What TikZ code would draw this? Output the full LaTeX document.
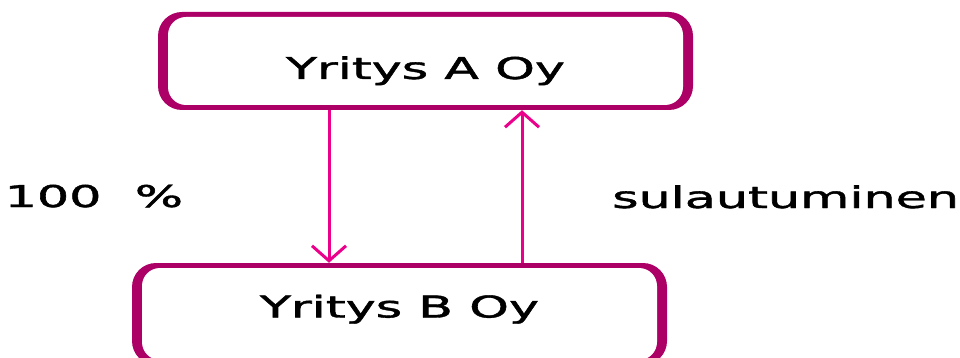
\documentclass[tikz,border=0pt]{standalone}
\usepackage{fontspec}
\setmainfont{DejaVu Sans}
\newfontfamily\heavyfont[FakeBold=1.2]{DejaVu Sans}
\usetikzlibrary{arrows.meta}
\definecolor{boxc}{RGB}{172,0,102}
\definecolor{arrc}{RGB}{234,0,138}
\tikzset{
  firmbox/.style={fill=boxc, draw=none, rounded corners=24pt,
    minimum width=535pt, minimum height=98pt,
    inner sep=0pt, text=black, font=\heavyfont\fontsize{30}{36}\selectfont,
    path picture={\fill[white, rounded corners=18pt]
      ([xshift=10pt,yshift=5pt]path picture bounding box.south west) rectangle
      ([xshift=-10pt,yshift=-5pt]path picture bounding box.north east);}},
  arr/.style={draw=arrc, line width=3pt, -{Straight Barb[length=15pt,width=34pt,line width=3pt]}},
  lbl/.style={inner sep=0pt, text=black, font=\heavyfont\fontsize{30}{36}\selectfont}
}
\newcommand{\wide}[1]{\scalebox{1.69}[1]{#1}}
\begin{document}
\begin{tikzpicture}[x=1pt,y=-1pt]
\useasboundingbox (0,0) rectangle (960,358);
\node[firmbox, text height=36pt, text depth=0pt] (A) at (425.5,61) {\wide{Yritys A Oy}\hspace{7pt}};
\node[firmbox, minimum height=102pt, text height=17pt, text depth=10pt] (B) at (399.5,314) {\wide{Yritys B Oy}\hspace{10pt}};
\draw[arr] (A.south -| 329,0) -- (B.north -| 329,0);
\draw[arr] (B.north -| 522,0) -- (A.south -| 522,0);
\node[lbl, anchor=base west] (p) at (4.5,207) {\wide{100\hspace{0.66em}\%}};
\node[lbl, anchor=base west] (s) at (612,208) {\wide{sulautuminen}};
\end{tikzpicture}
\end{document}
